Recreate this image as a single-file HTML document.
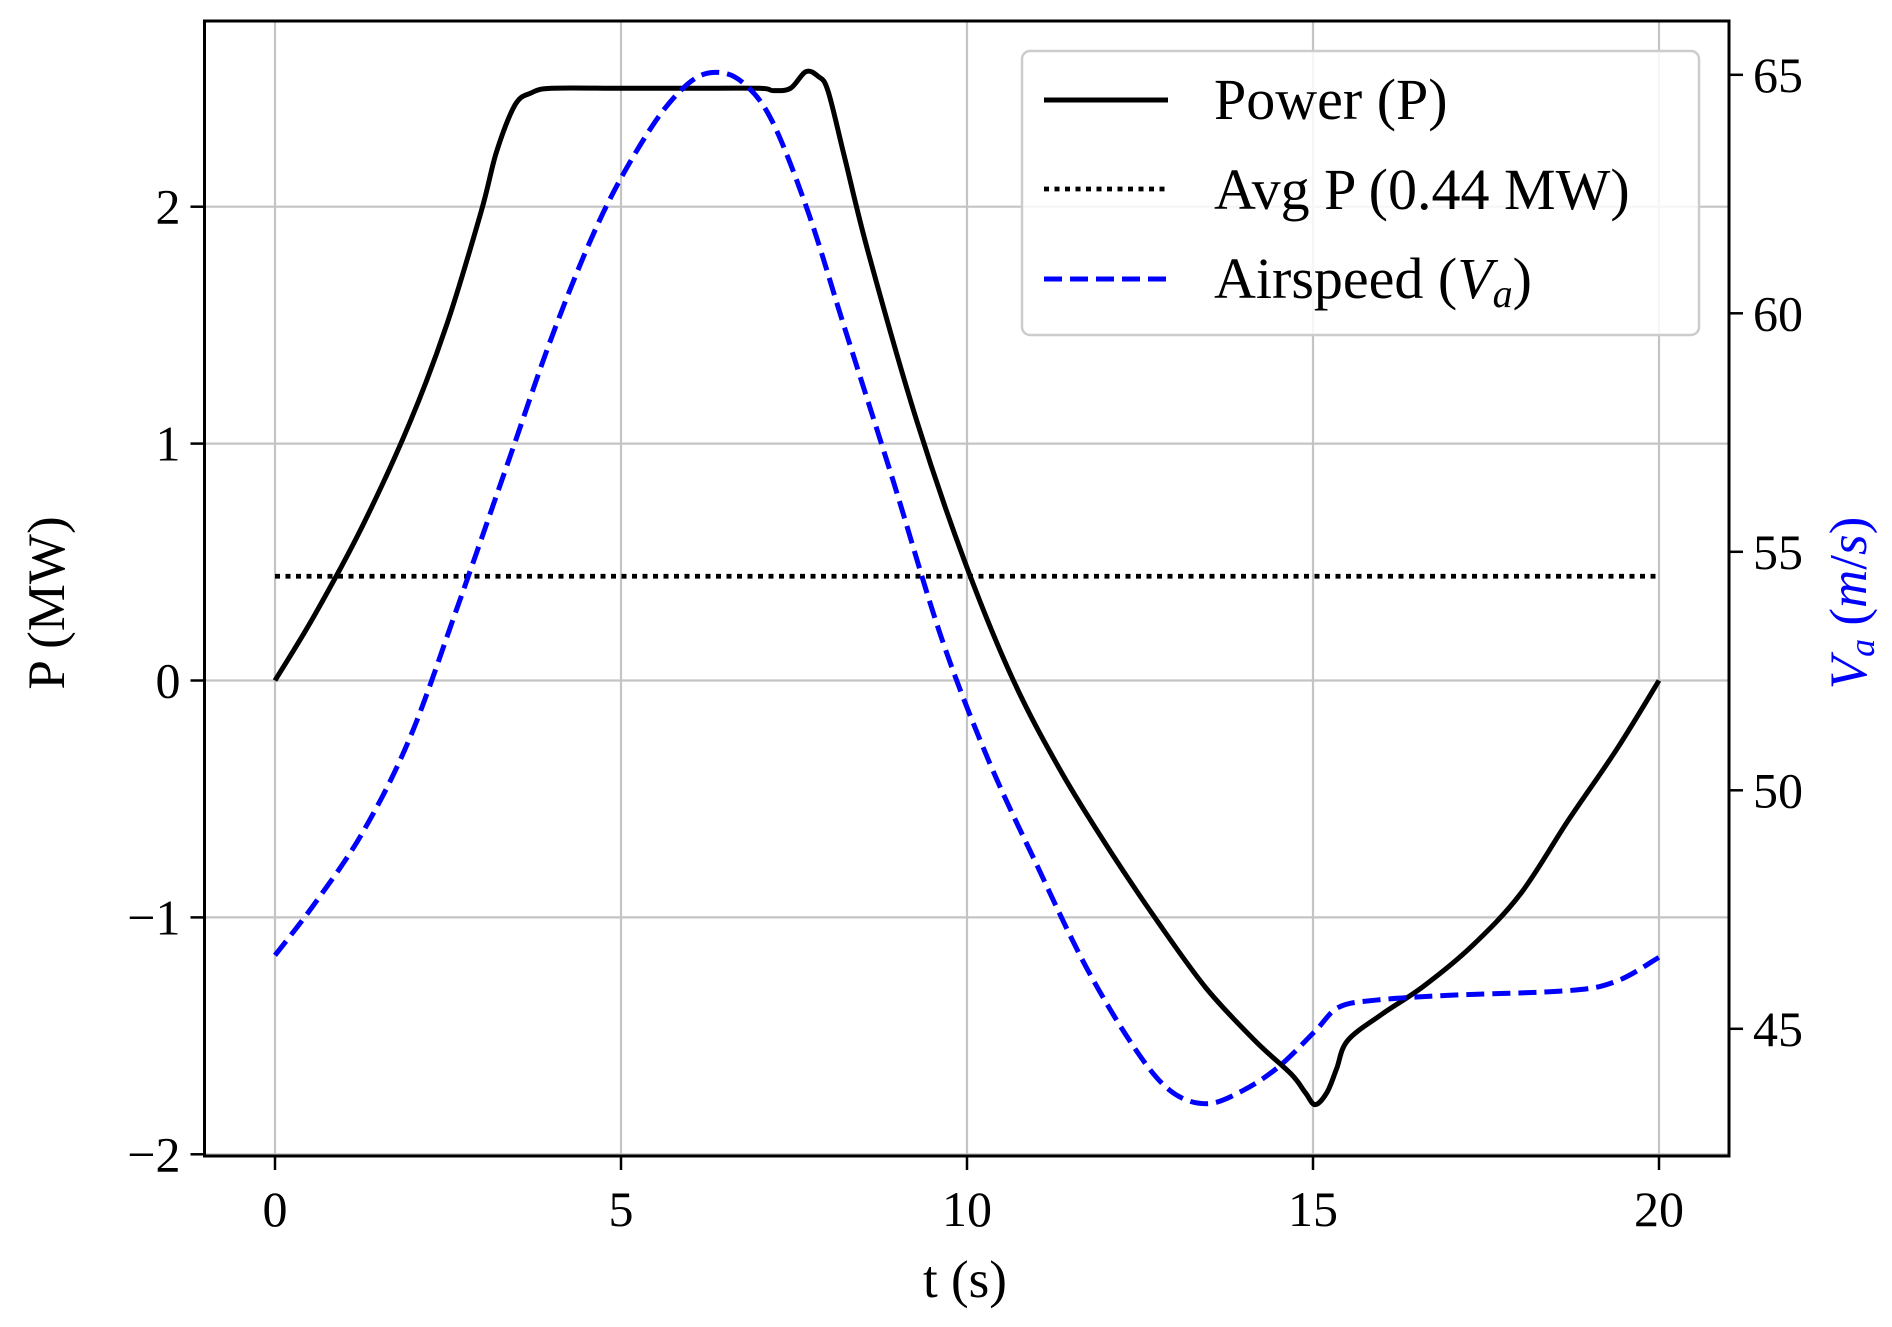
<!DOCTYPE html>
<html><head><meta charset="utf-8"><style>
body{margin:0;background:#fff}
svg{display:block;font-family:"Liberation Serif",serif}
</style></head><body>
<svg id="chart" width="1892" height="1327" viewBox="0 0 1892 1327"></svg>
<script>
const powerT=[0,0.56,1.26,1.95,2.48,2.98,3.2,3.47,3.7,4.0,5.0,6.0,7.0,7.2,7.45,7.67,7.85,7.99,8.23,8.58,9.28,9.97,10.67,11.37,12.07,12.76,13.46,14.16,14.68,14.89,15.03,15.2,15.34,15.5,15.99,16.6,17.3,18.0,18.69,19.39,20];
const powerP=[0,0.27,0.65,1.09,1.5,1.98,2.23,2.43,2.48,2.5,2.5,2.5,2.5,2.49,2.5,2.57,2.55,2.49,2.21,1.8,1.09,0.5,0,-0.39,-0.72,-1.02,-1.3,-1.52,-1.66,-1.74,-1.79,-1.74,-1.64,-1.52,-1.41,-1.29,-1.12,-0.9,-0.59,-0.29,0];
const airT=[0,0.56,1.26,1.95,2.65,3.35,4.05,4.74,5.44,5.96,6.35,6.75,7.18,7.71,8.23,8.93,9.63,10.32,11.02,11.72,12.42,12.94,13.46,13.98,14.5,15.03,15.37,15.9,16.94,18.69,19.39,20];
const airV=[46.54,47.6,49.1,51.1,53.9,56.8,59.7,62.1,63.9,64.8,65.05,64.85,64.04,62.1,59.7,56.5,53.2,50.6,48.4,46.3,44.6,43.7,43.43,43.7,44.2,44.95,45.45,45.6,45.7,45.8,46.0,46.5];
const avgP=[0.44];
const xTicks=[0,5,10,15,20];
const yTicks=[-2,-1,0,1,2];
const y2Ticks=[45,50,55,60,65];

const L=204.5,R=1729,T=21,B=1156;
const X=t=>275+t*69.2;
const Y=p=>680.5-p*236.9;
const Y2=v=>74.8+(65-v)*47.7;
const svg=document.getElementById('chart');
const NS='http://www.w3.org/2000/svg';
function mk(tag,attrs,parent){const e=document.createElementNS(NS,tag);for(const k in attrs)e.setAttribute(k,attrs[k]);(parent||svg).appendChild(e);return e;}

xTicks.forEach(t=>{const g=mk('line',{x1:X(t),x2:X(t),y1:T,y2:B,stroke:'#c4c4c4','stroke-width':2.2});

});
yTicks.forEach(p=>{const g=mk('line',{x1:L,x2:R,y1:Y(p),y2:Y(p),stroke:'#c4c4c4','stroke-width':2.2});

});

function pathD(xs,ys,fy){
  const P=xs.map((x,i)=>[X(x),fy(ys[i])]);
  let d='M'+P[0][0].toFixed(1)+','+P[0][1].toFixed(1);
  for(let i=0;i<P.length-1;i++){
    const p0=P[Math.max(0,i-1)],p1=P[i],p2=P[i+1],p3=P[Math.min(P.length-1,i+2)];
    const k=1/6;
    const c1=[p1[0]+(p2[0]-p0[0])*k,p1[1]+(p2[1]-p0[1])*k];
    const c2=[p2[0]-(p3[0]-p1[0])*k,p2[1]-(p3[1]-p1[1])*k];
    d+=' C'+c1[0].toFixed(1)+','+c1[1].toFixed(1)+' '+c2[0].toFixed(1)+','+c2[1].toFixed(1)+' '+p2[0].toFixed(1)+','+p2[1].toFixed(1);
  }
  return d;
}
const avg=mk('line',{x1:X(0),x2:X(20),y1:Y(avgP[0]),y2:Y(avgP[0]),stroke:'#000','stroke-width':4.8,'stroke-dasharray':'5 5.5'});


const pw=mk('path',{d:pathD(powerT,powerP,Y),fill:'none',stroke:'#000','stroke-width':5,'stroke-linejoin':'round'});


const as=mk('path',{d:pathD(airT,airV,Y2),fill:'none',stroke:'#0000ff','stroke-width':5,'stroke-dasharray':'18 8'});



const fr=mk('rect',{x:L,y:T,width:R-L,height:B-T,fill:'none',stroke:'#000','stroke-width':3});



xTicks.forEach(t=>{mk('line',{x1:X(t),x2:X(t),y1:B,y2:B+14,stroke:'#000','stroke-width':2.5});
const tx=mk('text',{x:X(t),y:B+70,'font-size':50,'text-anchor':'middle'});tx.textContent=t;

});
yTicks.forEach(p=>{mk('line',{x1:L-14,x2:L,y1:Y(p),y2:Y(p),stroke:'#000','stroke-width':2.5});
const tx=mk('text',{x:L-24,y:Y(p)+17,'font-size':50,'text-anchor':'end'});tx.textContent=p<0?'\u2212'+(-p):p;

});
y2Ticks.forEach(v=>{mk('line',{x1:R,x2:R+14,y1:Y2(v),y2:Y2(v),stroke:'#000','stroke-width':2.5});
const tx=mk('text',{x:R+24,y:Y2(v)+17,'font-size':50,'text-anchor':'start'});tx.textContent=v;

});
</script>
<svg style="position:absolute;left:0;top:0" width="1892" height="1327" font-family="Liberation Serif, serif">
<text x="965" y="1297" font-size="53" text-anchor="middle">t (s)</text>
<text transform="translate(64,603) rotate(-90)" font-size="53" text-anchor="middle">P (MW)</text>
<text transform="translate(1866,603) rotate(-90)" font-size="53" text-anchor="middle" fill="#0000ff"><tspan font-style="italic">V</tspan><tspan font-style="italic" font-size="36" dy="8">a</tspan><tspan dy="-8"> (</tspan><tspan font-style="italic">m</tspan>/<tspan font-style="italic">s</tspan>)</text>
<g>
<rect x="1022" y="51" width="677" height="284" rx="8" fill="#fff" fill-opacity="0.85" stroke="#cccccc" stroke-width="2.5"/>
<line x1="1044" x2="1168" y1="100" y2="100" stroke="#000" stroke-width="5"/>
<text x="1214" y="119" font-size="58">Power (P)</text>
<line x1="1044" x2="1168" y1="189" y2="189" stroke="#000" stroke-width="4.8" stroke-dasharray="5 5.5"/>
<text x="1214" y="209" font-size="58">Avg P (0.44 MW)</text>
<line x1="1044" x2="1168" y1="279" y2="279" stroke="#0000ff" stroke-width="5" stroke-dasharray="18 8"/>
<text x="1214" y="298" font-size="58">Airspeed (<tspan font-style="italic">V</tspan><tspan font-style="italic" font-size="40" dy="9">a</tspan><tspan dy="-9">)</tspan></text>
</g>
</svg>
</body></html>
